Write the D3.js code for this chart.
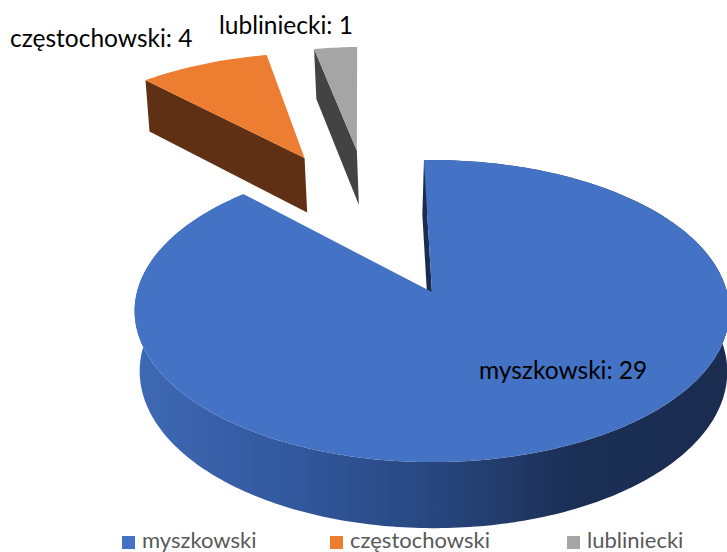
<!DOCTYPE html>
<html>
<head>
<meta charset="utf-8">
<script src="https://cdn.jsdelivr.net/npm/d3@7"></script>
<style>
    body { margin: 0; background: #fff; }
    text { font-family: Lato, "Open Sans", sans-serif; }
</style>
</head>
<body>
<div id="chart"></div>
<script>
const categories = ["myszkowski", "częstochowski", "lubliniecki"];
// numbers printed on the labels
const labelValues = [29, 4, 1];
// slice sizes as measured from the drawn wedges, they do not follow the labels
const sliceValues = [30, 3, 1];
const faceColours = ["#4472c4", "#ed7d31", "#a5a5a5"];
const wallColours = ["#1a2c50", "#5f3013", "#434343"];

const width = 727;
const height = 552;

// perspective camera for the tilted pie
const originX = 430, originY = 292;
const scaleU = 295, scaleV = 148.6;
const perspective = 0.1258, depthFall = 0.012;
const depthX = 1.5, depthY = 60.6;
// the seam next to the gap leans left in the reference
const seamShift = -3;

// ground plane position of the pie centre and how far slices are pulled out
const centreU = -0.213, centreV = -0.52, explode = 0.565;
const rotation = -1.7 * Math.PI / 180;

function project(u, v, h) {
    const w = 1 - perspective * v + depthFall * h;
    return [originX + (scaleU * u + depthX * h) / w, originY + (scaleV * v + depthY * h) / w];
}

const svg = d3.select("#chart").append("svg")
    .attr("width", width)
    .attr("height", height)
    .style("display", "block");

const wallGradient = svg.append("defs").append("linearGradient")
    .attr("id", "wall")
    .attr("gradientUnits", "userSpaceOnUse")
    .attr("x1", 134).attr("x2", 727).attr("y1", 0).attr("y2", 0);

wallGradient.selectAll("stop")
    .data([[0, "#3e69b4"], [0.25, "#33599f"], [0.5, "#28477f"], [0.75, "#1b2e54"], [1, "#1a2c50"]])
    .enter().append("stop")
    .attr("offset", d => d[0])
    .attr("stop-color", d => d[1]);

const pie = d3.pie().sort(null).startAngle(rotation).endAngle(rotation + 2 * Math.PI);
const line = d3.line();

const slices = pie(sliceValues).map((d, i) => {
    const mid = (d.startAngle + d.endAngle) / 2;
    const apexU = centreU + explode * Math.sin(mid);
    const apexV = centreV - explode * Math.cos(mid);
    const steps = Math.max(4, Math.ceil((d.endAngle - d.startAngle) * 60));
    const rim = d3.range(steps + 1).map(k => {
        const a = d.startAngle + (d.endAngle - d.startAngle) * k / steps;
        return [apexU + Math.sin(a), apexV - Math.cos(a)];
    });
    return { i, apexU, apexV, rim };
});

// back slices first, the big one sits in front of them
slices.slice().reverse().forEach(s => {
    const g = svg.append("g");
    const first = s.rim[0];
    const top = p => project(p[0], p[1], 0);
    const bottom = p => project(p[0], p[1], 1);
    const apex = [s.apexU, s.apexV];
    const shift = s.i === 0 ? seamShift : 0;
    const seam = p => [bottom(p)[0] + shift, bottom(p)[1]];

    // outer wall, only the big slice shows one to the viewer
    if (s.i === 0) {
        g.append("path")
            .attr("d", line(s.rim.map(top).concat(s.rim.slice().reverse().map(bottom))) + "Z")
            .attr("fill", "url(#wall)");
    }

    // radial wall along the start edge
    g.append("path")
        .attr("d", line([top(apex), top(first), seam(first), seam(apex)]) + "Z")
        .attr("fill", wallColours[s.i]);

    // top face
    g.append("path")
        .attr("d", line([top(apex)].concat(s.rim.map(top))) + "Z")
        .attr("fill", faceColours[s.i]);
});

// data labels
const labelPos = [[479, 379], [10, 47], [219, 34]];
svg.selectAll(".label")
    .data(categories)
    .enter().append("text")
    .attr("class", "label")
    .attr("x", (d, i) => labelPos[i][0])
    .attr("y", (d, i) => labelPos[i][1])
    .attr("font-size", 24.5)
    .attr("fill", "#000")
    .text((d, i) => d + ": " + labelValues[i]);

// legend
const legendX = [122, 330, 567];
const legend = svg.selectAll(".legend")
    .data(categories)
    .enter().append("g")
    .attr("class", "legend")
    .attr("transform", (d, i) => "translate(" + legendX[i] + ",536)");

legend.append("rect")
    .attr("width", 13)
    .attr("height", 13)
    .attr("fill", (d, i) => faceColours[i]);

legend.append("text")
    .attr("x", 20)
    .attr("y", 12)
    .attr("font-size", 22)
    .attr("fill", "#595959")
    .text(d => d);
</script>
</body>
</html>
